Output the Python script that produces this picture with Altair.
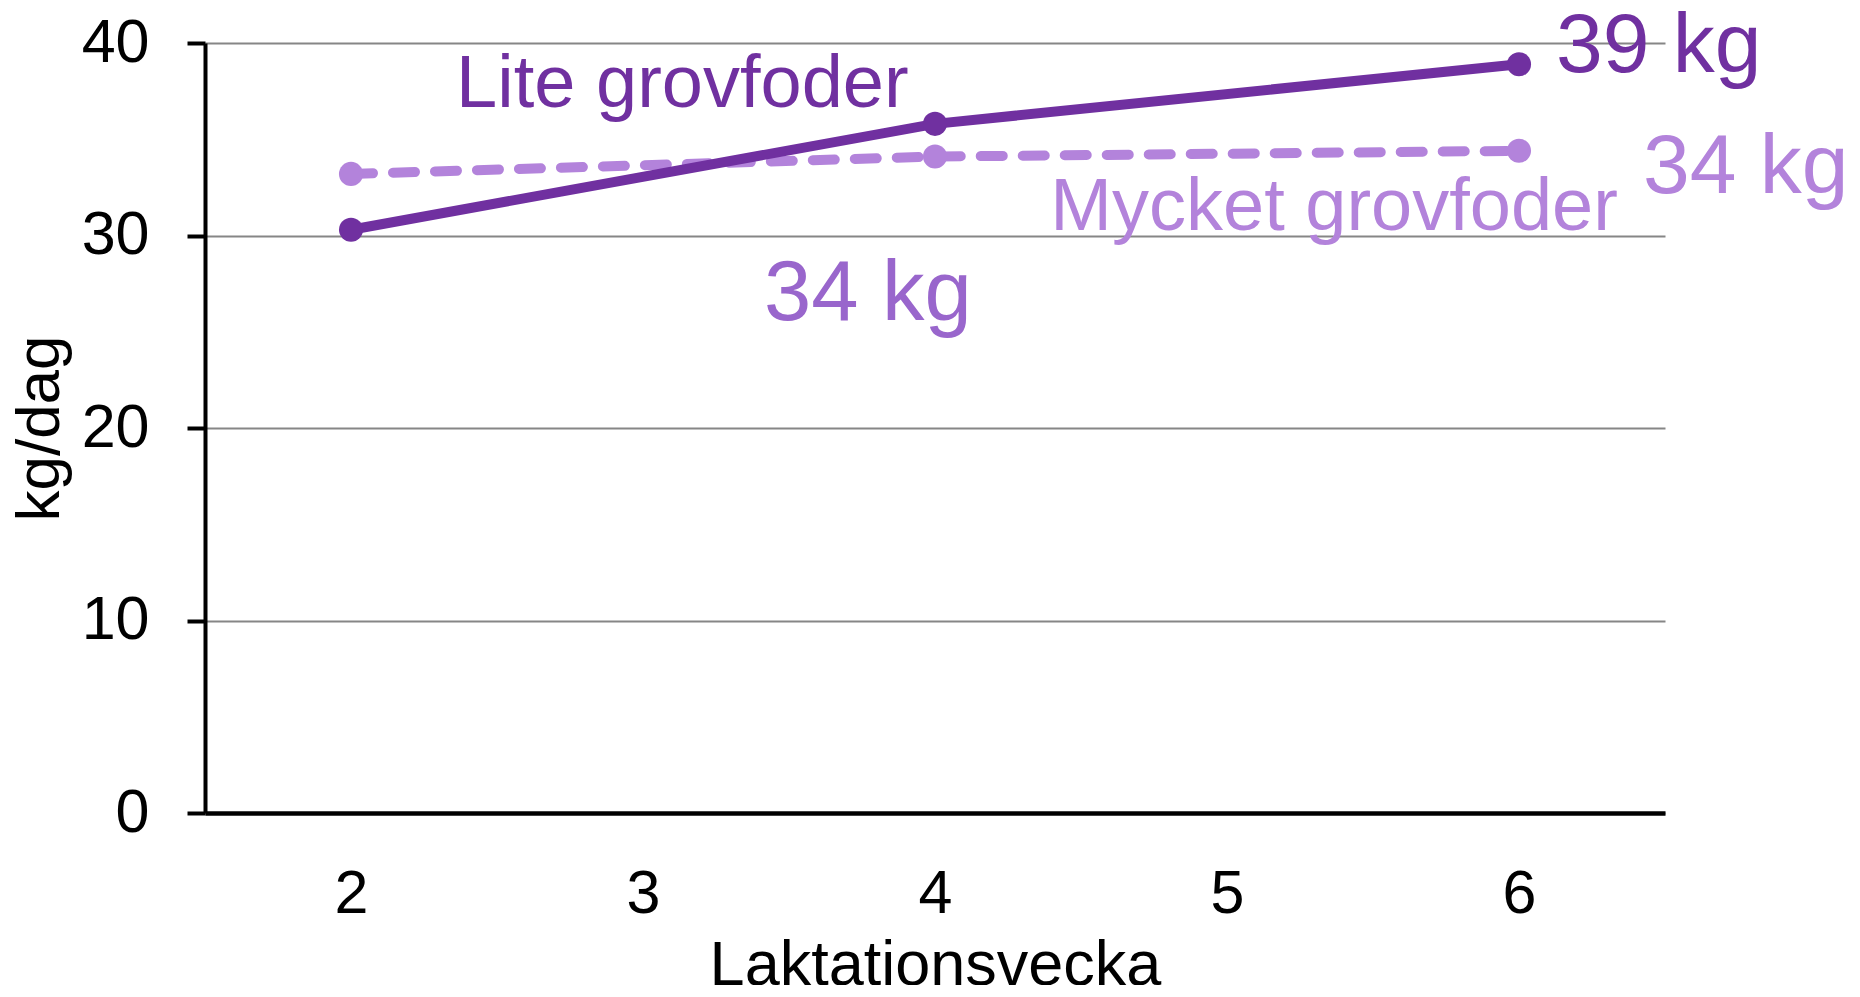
import altair as alt
import pandas as pd

# Data
weeks = [2, 4, 6]
lite = [30.3, 35.8, 38.9]
mycket = [33.2, 34.1, 34.4]

label_text = ["Lite grovfoder", "Mycket grovfoder", "39 kg", "34 kg", "34 kg"]
label_x = [2.36, 4.395, 6.127, 6.425, 3.414]
label_y = [36.7, 30.3, 38.5, 32.2, 25.6]
label_size = [74, 74, 84, 84, 85]
label_color = ["#7030A0", "#B383DB", "#7030A0", "#B383DB", "#9966CC"]

y_ticks = [0, 10, 20, 30, 40]
x_ticks = [2, 3, 4, 5, 6]

FONT = "Liberation Sans"
DARK = "#7030A0"
LIGHT = "#B383DB"

df_lite = pd.DataFrame({"week": weeks, "value": lite})
df_mycket = pd.DataFrame({"week": weeks, "value": mycket})
df_labels = pd.DataFrame({"text": label_text, "x": label_x, "y": label_y,
                          "size": label_size, "color": label_color})

x_scale = alt.Scale(domain=[1.5, 6.5], nice=False, zero=False)
y_scale = alt.Scale(domain=[0, 40], nice=False)

x_axis = alt.Axis(values=x_ticks, format="d", grid=False, domainColor="black", domainWidth=4.5,
                  ticks=False, tickSize=0, labelFontSize=61, labelFont=FONT,
                  labelColor="black", labelPadding=99, labelBaseline="alphabetic",
                  title="Laktationsvecka", titleFontSize=63, titleFont=FONT,
                  titleFontWeight="normal", titleColor="black", titleY=171,
                  titleBaseline="alphabetic", titleX=730, titleAlign="center")
y_axis = alt.Axis(values=y_ticks, grid=True, gridColor="#868686", gridWidth=2,
                  domainColor="black", domainWidth=4, tickColor="black",
                  tickWidth=4, tickSize=18, labelFontSize=61, labelFont=FONT,
                  labelColor="black", labelPadding=38,
                  title="kg/dag", titleFontSize=62, titleFont=FONT,
                  titleFontWeight="normal", titleColor="black", titleAngle=270,
                  titleX=-147, titleY=385, titleBaseline="alphabetic",
                  titleAlign="center")

base_m = alt.Chart(df_mycket).encode(
    x=alt.X("week:Q", scale=x_scale, axis=x_axis),
    y=alt.Y("value:Q", scale=y_scale, axis=y_axis),
)
line_m = base_m.mark_line(color=LIGHT, strokeWidth=10, strokeDash=[22, 20], strokeCap="round")
pts_m = base_m.mark_circle(color=LIGHT, size=580, opacity=1)

base_l = alt.Chart(df_lite).encode(
    x=alt.X("week:Q", scale=x_scale),
    y=alt.Y("value:Q", scale=y_scale),
)
line_l = base_l.mark_line(color=DARK, strokeWidth=10)
pts_l = base_l.mark_circle(color=DARK, size=580, opacity=1)

labels = alt.Chart(df_labels).mark_text(align="left", baseline="alphabetic", font=FONT).encode(
    x=alt.X("x:Q", scale=x_scale),
    y=alt.Y("y:Q", scale=y_scale),
    text="text:N",
    size=alt.Size("size:Q", scale=None, legend=None),
    color=alt.Color("color:N", scale=None, legend=None),
)

chart = alt.layer(line_m, pts_m, line_l, pts_l, labels).properties(
    width=1460, height=770,
    padding={"left": 197, "top": 35, "right": 180, "bottom": 172},
    autosize=alt.AutoSizeParams(type="none"),
    background="white",
).configure_view(stroke=None, strokeWidth=0)

chart.save("out.html", embed_options={"renderer": "svg", "actions": False})
